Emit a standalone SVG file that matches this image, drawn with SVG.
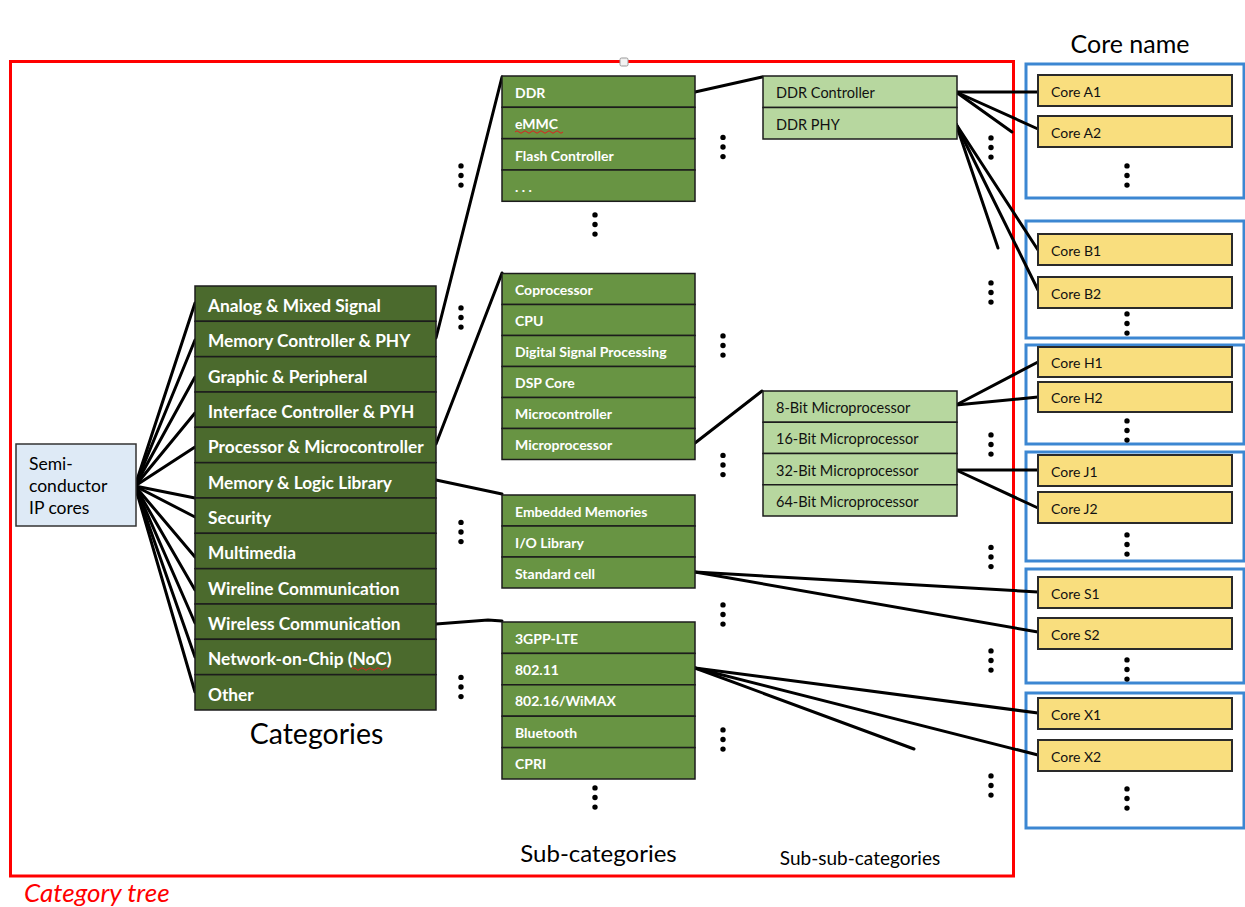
<svg xmlns="http://www.w3.org/2000/svg" width="1245" height="907" viewBox="0 0 1245 907">
<style>
.cat rect{fill:#4b6a2d;stroke:#1c1c1c;stroke-width:1.5}
.cat text{fill:#fff;font-family:Lato,"Open Sans",sans-serif;font-weight:bold;font-size:17.3px}
.sub rect{fill:#689443;stroke:#1c1c1c;stroke-width:1.5}
.sub text{fill:#fff;font-family:Lato,"Open Sans",sans-serif;font-weight:bold;font-size:14px}
.ssub rect{fill:#b7d79f;stroke:#1c1c1c;stroke-width:1.5}
.ssub text{fill:#111;font-family:Lato,"Open Sans",sans-serif;font-size:14.5px}
.core rect{fill:#f9de7e;stroke:#2a2a2a;stroke-width:2}
.core text{fill:#111;font-family:Lato,"Open Sans",sans-serif;font-size:14px}
.grp{fill:none;stroke:#3c87d2;stroke-width:3}
.conn line,.conn polyline{stroke:#000;stroke-width:3;fill:none;stroke-linecap:round}
.dots circle{fill:#000}
.lbl{font-family:Lato,"Open Sans",sans-serif;fill:#000}
.squig{fill:none;stroke:#e02020;stroke-width:1}
</style>
<defs>
<g id="vdots"><circle cx="0" cy="-9.6" r="2.7"/><circle cx="0" cy="0" r="2.7"/><circle cx="0" cy="9.6" r="2.7"/></g>
</defs>
<rect width="1245" height="907" fill="#fff"/>

<!-- red category tree frame -->
<rect x="10.5" y="61.5" width="1003" height="814.5" fill="none" stroke="#ff0000" stroke-width="3"/>
<rect x="620" y="58" width="8" height="8" rx="1.5" fill="#f2f2f2" stroke="#999" stroke-width="1"/>

<!-- blue core-name groups -->
<g id="coregroups">
<rect class="grp" x="1026" y="64" width="218" height="134"/>
<rect class="grp" x="1026" y="221" width="218" height="117"/>
<rect class="grp" x="1026" y="345" width="218" height="99"/>
<rect class="grp" x="1026" y="452" width="218" height="109"/>
<rect class="grp" x="1026" y="569" width="218" height="114"/>
<rect class="grp" x="1026" y="693" width="218" height="135"/>
</g>

<!-- connectors -->
<g id="connectors" class="conn">
<line x1="135" y1="486" x2="195" y2="303"/>
<line x1="135" y1="486" x2="195" y2="340"/>
<line x1="135" y1="486" x2="195" y2="377"/>
<line x1="135" y1="486" x2="195" y2="413"/>
<line x1="135" y1="486" x2="195" y2="447"/>
<line x1="135" y1="486" x2="195" y2="498"/>
<line x1="135" y1="486" x2="195" y2="517"/>
<line x1="135" y1="486" x2="195" y2="557"/>
<line x1="135" y1="486" x2="195" y2="590"/>
<line x1="135" y1="486" x2="195" y2="623"/>
<line x1="135" y1="486" x2="195" y2="657"/>
<line x1="135" y1="486" x2="195" y2="692"/>
<line x1="436" y1="338" x2="502" y2="77"/>
<line x1="436" y1="444" x2="502" y2="273"/>
<line x1="436" y1="480" x2="502" y2="494"/>
<polyline points="436,624 488,620 502,621"/>
<line x1="695" y1="92" x2="762" y2="77"/>
<line x1="695" y1="443" x2="762" y2="391"/>
<line x1="956" y1="92" x2="1038" y2="92"/>
<line x1="956" y1="92" x2="1038" y2="129"/>
<line x1="956" y1="92" x2="1012" y2="132"/>
<line x1="956" y1="124" x2="998" y2="248"/>
<line x1="956" y1="124" x2="1038" y2="250"/>
<line x1="956" y1="124" x2="1038" y2="290"/>
<line x1="956" y1="405" x2="1038" y2="362"/>
<line x1="956" y1="405" x2="1038" y2="397"/>
<line x1="956" y1="470" x2="1038" y2="470"/>
<line x1="956" y1="470" x2="1038" y2="508"/>
<line x1="695" y1="572" x2="1038" y2="592"/>
<line x1="695" y1="572" x2="1038" y2="632"/>
<line x1="695" y1="668" x2="1038" y2="713"/>
<line x1="695" y1="668" x2="1038" y2="755"/>
<line x1="695" y1="668" x2="914" y2="749"/>
</g>

<!-- root -->
<g id="root">
<rect x="16" y="444" width="120" height="82" fill="#deeaf6" stroke="#333" stroke-width="1.5"/>
<text class="lbl" font-size="17.5" x="29" y="470">Semi-</text>
<text class="lbl" font-size="17.5" x="29" y="492">conductor</text>
<text class="lbl" font-size="17.5" x="29" y="514">IP cores</text>
</g>

<!-- categories -->
<g id="categories" class="cat">
<g id="cat-analog"><rect x="195" y="286" width="241" height="35.3"/><text x="208" y="312">Analog &amp; Mixed Signal</text></g>
<g id="cat-memctrl"><rect x="195" y="321.3" width="241" height="35.3"/><text x="208" y="347.3">Memory Controller &amp; PHY</text></g>
<g id="cat-graphic"><rect x="195" y="356.7" width="241" height="35.3"/><text x="208" y="382.7">Graphic &amp; Peripheral</text></g>
<g id="cat-interface"><rect x="195" y="392" width="241" height="35.3"/><text x="208" y="418">Interface Controller &amp; PYH</text></g>
<g id="cat-processor"><rect x="195" y="427.3" width="241" height="35.3"/><text x="208" y="453.3">Processor &amp; Microcontroller</text></g>
<g id="cat-memlogic"><rect x="195" y="462.7" width="241" height="35.3"/><text x="208" y="488.7">Memory &amp; Logic Library</text></g>
<g id="cat-security"><rect x="195" y="498" width="241" height="35.3"/><text x="208" y="524">Security</text></g>
<g id="cat-multimedia"><rect x="195" y="533.3" width="241" height="35.3"/><text x="208" y="559.3">Multimedia</text></g>
<g id="cat-wireline"><rect x="195" y="568.7" width="241" height="35.3"/><text x="208" y="594.7">Wireline Communication</text></g>
<g id="cat-wireless"><rect x="195" y="604" width="241" height="35.3"/><text x="208" y="630">Wireless Communication</text></g>
<g id="cat-noc"><rect x="195" y="639.3" width="241" height="35.3"/><text x="208" y="665.3">Network-on-Chip (NoC)</text></g>
<g id="cat-other"><rect x="195" y="674.7" width="241" height="35.3"/><text x="208" y="700.7">Other</text></g>
</g>
<path class="squig" d="M352,669 q2,-2.5 4,0 t4,0 t4,0 t4,0 t4,0 t4,0 t4,0 t4,0 t4,0"/>

<!-- sub-categories -->
<g id="sub-memory" class="sub">
<g id="sub-ddr"><rect x="502" y="76" width="193" height="31.3"/><text x="515" y="98">DDR</text></g>
<g id="sub-emmc"><rect x="502" y="107.3" width="193" height="31.3"/><text x="515" y="129.3">eMMC</text></g>
<g id="sub-flash"><rect x="502" y="138.7" width="193" height="31.3"/><text x="515" y="160.7">Flash Controller</text></g>
<g id="sub-more"><rect x="502" y="170" width="193" height="31.3"/><text x="515" y="192">. . .</text></g>
</g>
<path class="squig" d="M515,132 q2,-2.5 4,0 t4,0 t4,0 t4,0 t4,0 t4,0 t4,0 t4,0 t4,0 t4,0 t4,0 t4,0"/>

<g id="sub-processor" class="sub">
<g id="sub-coproc"><rect x="502" y="273.5" width="193" height="31"/><text x="515" y="295">Coprocessor</text></g>
<g id="sub-cpu"><rect x="502" y="304.5" width="193" height="31"/><text x="515" y="326">CPU</text></g>
<g id="sub-dsp"><rect x="502" y="335.5" width="193" height="31"/><text x="515" y="357">Digital Signal Processing</text></g>
<g id="sub-dspcore"><rect x="502" y="366.5" width="193" height="31"/><text x="515" y="388">DSP Core</text></g>
<g id="sub-mcu"><rect x="502" y="397.5" width="193" height="31"/><text x="515" y="419">Microcontroller</text></g>
<g id="sub-mpu"><rect x="502" y="428.5" width="193" height="31"/><text x="515" y="450">Microprocessor</text></g>
</g>

<g id="sub-library" class="sub">
<g id="sub-embmem"><rect x="502" y="495" width="193" height="31"/><text x="515" y="516.5">Embedded Memories</text></g>
<g id="sub-io"><rect x="502" y="526" width="193" height="31"/><text x="515" y="547.5">I/O Library</text></g>
<g id="sub-stdcell"><rect x="502" y="557" width="193" height="31"/><text x="515" y="578.5">Standard cell</text></g>
</g>

<g id="sub-wireless" class="sub">
<g id="sub-lte"><rect x="502" y="622" width="193" height="31.4"/><text x="515" y="643.5">3GPP-LTE</text></g>
<g id="sub-80211"><rect x="502" y="653.4" width="193" height="31.4"/><text x="515" y="674.9">802.11</text></g>
<g id="sub-80216"><rect x="502" y="684.8" width="193" height="31.4"/><text x="515" y="706.3">802.16/WiMAX</text></g>
<g id="sub-bt"><rect x="502" y="716.2" width="193" height="31.4"/><text x="515" y="737.7">Bluetooth</text></g>
<g id="sub-cpri"><rect x="502" y="747.6" width="193" height="31.4"/><text x="515" y="769.1">CPRI</text></g>
</g>

<!-- sub-sub-categories -->
<g id="ssub-ddr" class="ssub">
<g id="ssub-ddrctrl"><rect x="763" y="76" width="194" height="31.5"/><text x="776" y="98">DDR Controller</text></g>
<g id="ssub-ddrphy"><rect x="763" y="107.5" width="194" height="31.5"/><text x="776" y="129.5">DDR PHY</text></g>
</g>
<g id="ssub-mpu" class="ssub">
<g id="ssub-8bit"><rect x="763" y="391" width="194" height="31.25"/><text x="776" y="413">8-Bit Microprocessor</text></g>
<g id="ssub-16bit"><rect x="763" y="422.25" width="194" height="31.25"/><text x="776" y="444.25">16-Bit Microprocessor</text></g>
<g id="ssub-32bit"><rect x="763" y="453.5" width="194" height="31.25"/><text x="776" y="475.5">32-Bit Microprocessor</text></g>
<g id="ssub-64bit"><rect x="763" y="484.75" width="194" height="31.25"/><text x="776" y="506.75">64-Bit Microprocessor</text></g>
</g>

<!-- cores -->
<g class="core">
<g id="core-a1"><rect x="1038" y="75" width="194" height="31"/><text x="1051" y="96.5">Core A1</text></g>
<g id="core-a2"><rect x="1038" y="116" width="194" height="31"/><text x="1051" y="137.5">Core A2</text></g>
<g id="core-b1"><rect x="1038" y="234" width="194" height="31"/><text x="1051" y="255.5">Core B1</text></g>
<g id="core-b2"><rect x="1038" y="277" width="194" height="31"/><text x="1051" y="298.5">Core B2</text></g>
<g id="core-h1"><rect x="1038" y="347" width="194" height="30"/><text x="1051" y="368">Core H1</text></g>
<g id="core-h2"><rect x="1038" y="382" width="194" height="30"/><text x="1051" y="403">Core H2</text></g>
<g id="core-j1"><rect x="1038" y="455" width="194" height="31"/><text x="1051" y="476.5">Core J1</text></g>
<g id="core-j2"><rect x="1038" y="492" width="194" height="31"/><text x="1051" y="513.5">Core J2</text></g>
<g id="core-s1"><rect x="1038" y="577" width="194" height="31"/><text x="1051" y="598.5">Core S1</text></g>
<g id="core-s2"><rect x="1038" y="618" width="194" height="31"/><text x="1051" y="639.5">Core S2</text></g>
<g id="core-x1"><rect x="1038" y="698" width="194" height="31"/><text x="1051" y="719.5">Core X1</text></g>
<g id="core-x2"><rect x="1038" y="740" width="194" height="31"/><text x="1051" y="761.5">Core X2</text></g>
</g>

<!-- ellipsis dots -->
<g class="dots">
<use href="#vdots" x="461" y="175.5"/>
<use href="#vdots" x="461" y="317.5"/>
<use href="#vdots" x="461" y="532"/>
<use href="#vdots" x="461" y="687"/>
<use href="#vdots" x="595" y="224.5"/>
<use href="#vdots" x="595" y="797.5"/>
<use href="#vdots" x="723" y="147"/>
<use href="#vdots" x="723" y="345.5"/>
<use href="#vdots" x="723" y="465"/>
<use href="#vdots" x="723" y="614.5"/>
<use href="#vdots" x="723" y="739.5"/>
<use href="#vdots" x="991" y="147.5"/>
<use href="#vdots" x="991" y="292.5"/>
<use href="#vdots" x="991" y="444.5"/>
<use href="#vdots" x="991" y="557"/>
<use href="#vdots" x="991" y="660.5"/>
<use href="#vdots" x="991" y="785.5"/>
<use href="#vdots" x="1127" y="175.5"/>
<use href="#vdots" x="1127" y="323.5"/>
<use href="#vdots" x="1127" y="430.5"/>
<use href="#vdots" x="1127" y="544.5"/>
<use href="#vdots" x="1127" y="669.5"/>
<use href="#vdots" x="1127" y="798.5"/>
</g>

<!-- headings -->
<text class="lbl" x="1130" y="53" font-size="25" text-anchor="middle">Core name</text>
<text class="lbl" x="316.5" y="744" font-size="28.5" text-anchor="middle">Categories</text>
<text class="lbl" x="598.5" y="862" font-size="24" text-anchor="middle">Sub-categories</text>
<text class="lbl" x="860" y="865" font-size="19" text-anchor="middle">Sub-sub-categories</text>
<text x="24" y="902" font-family="Lato,'Open Sans',sans-serif" font-style="italic" font-size="26" fill="#ff0000">Category tree</text>
</svg>
